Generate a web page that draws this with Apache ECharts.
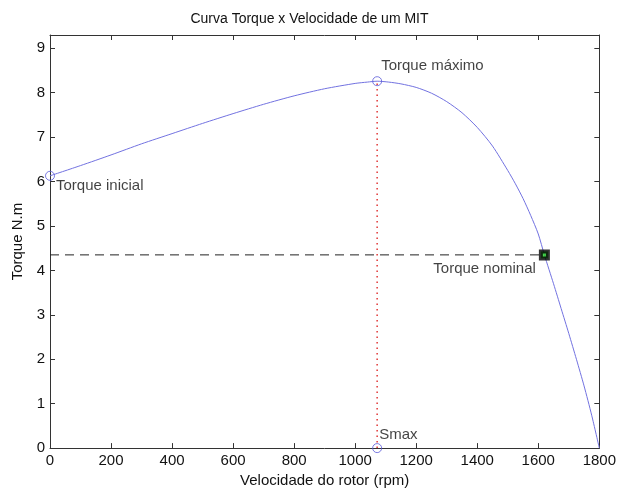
<!DOCTYPE html>
<html><head><meta charset="utf-8">
<script src="https://cdn.jsdelivr.net/npm/echarts@6/dist/echarts.min.js"></script>
<style>html,body{margin:0;padding:0;background:#fff}#c{width:619px;height:493px}</style>
</head><body><div id="c"></div>
<script>
const speed = [0,100,200,300,400,500,600,700,800,900,1000,1040,1072,1110,1150,1200,1250,1300,1350,1400,1450,1500,1525,1550,1575,1600,1620,1650,1675,1700,1725,1750,1775,1800];
const torque = [6.13,6.36,6.60,6.85,7.08,7.31,7.53,7.74,7.93,8.09,8.21,8.24,8.26,8.24,8.20,8.12,7.99,7.80,7.55,7.22,6.80,6.25,5.95,5.62,5.24,4.82,4.35,3.70,3.14,2.58,2.00,1.40,0.74,0];
const pInit = [0, 6.13];
const pMax = [1072, 8.26];
const pSmax = [1072, 0];
const pNom = [1620, 4.35];
const titleText = 'Curva Torque x Velocidade de um MIT';
const xName = 'Velocidade do rotor (rpm)';
const yName = 'Torque N.m';
const xTicks = [0,200,400,600,800,1000,1200,1400,1600,1800];
const yTicks = [0,1,2,3,4,5,6,7,8,9];

const F = 'Liberation Sans, Arial, sans-serif';
const chart = echarts.init(document.getElementById('c'), null, {renderer:'canvas'});
const axisLineStyle = {color:'#333', width:1};
const lbl = (txt, pos, dx, dy) => ({show:true, formatter:txt, position:pos, offset:[dx,dy], color:'#111', fontFamily:F, fontSize:15});
chart.setOption({
  animation:false,
  title:{text:titleText, left:'center', top:7, textStyle:{fontFamily:F, fontSize:14, fontWeight:'normal', color:'#111'}},
  grid:{left:50, right:19, top:35, bottom:42},
  xAxis:[{type:'value', min:0, max:1800, interval:200, name:xName, nameLocation:'middle', nameGap:24,
    nameTextStyle:{fontFamily:F, fontSize:15, color:'#111'},
    axisLine:{show:true, onZero:false, lineStyle:axisLineStyle}, axisTick:{inside:true, length:5, lineStyle:axisLineStyle},
    axisLabel:{fontFamily:F, fontSize:15, color:'#111', margin:5, formatter:v => xTicks.includes(v) ? String(v) : ''}, splitLine:{show:false}},
   {type:'value', position:'top', min:0, max:1800, interval:200,
    axisLine:{show:true, onZero:false, lineStyle:axisLineStyle}, axisTick:{inside:true, length:5, lineStyle:axisLineStyle},
    axisLabel:{show:false}, splitLine:{show:false}}],
  yAxis:[{type:'value', min:0, max:9.3, interval:1, name:yName, nameLocation:'middle', nameGap:23,
    nameTextStyle:{fontFamily:F, fontSize:15, color:'#111'},
    axisLine:{show:true, onZero:false, lineStyle:axisLineStyle}, axisTick:{inside:true, length:5, lineStyle:axisLineStyle},
    axisLabel:{fontFamily:F, fontSize:15, color:'#111', margin:5, showMaxLabel:false,
      formatter:v => yTicks.includes(v) ? String(v) : ''}, splitLine:{show:false}},
   {type:'value', position:'right', min:0, max:9.3, interval:1,
    axisLine:{show:true, onZero:false, lineStyle:axisLineStyle}, axisTick:{inside:true, length:5, lineStyle:axisLineStyle},
    axisLabel:{show:false}, splitLine:{show:false}}],
  series:[
    {type:'line', data:[[0,pNom[1]],[pNom[0],pNom[1]]], symbol:'none', lineStyle:{color:'#222', width:1, type:[9,6]}, z:2},
    {type:'line', data:[[pMax[0],0],[pMax[0],pMax[1]]], symbol:'none', lineStyle:{color:'#e03535', width:1.5, type:[1.5,4]}, z:2},
    {type:'line', data:speed.map((s,i)=>[s,torque[i]]), symbol:'none', smooth:0.25, lineStyle:{color:'#7272e0', width:1}, z:3},
    {type:'scatter', data:[
      {value:pInit, label:lbl('Torque inicial','right',-4,10)},
      {value:pMax, label:lbl('Torque máximo','right',-6,-15)},
      {value:pSmax, label:lbl('Smax','right',-8,-13)}
    ], symbol:'circle', symbolSize:9, itemStyle:{color:'rgba(255,255,255,0)', borderColor:'#5a5ad8', borderWidth:1}, z:4, clip:false},
    {type:'scatter', data:[{value:pNom, label:lbl('Torque nominal','left',2,14)}], symbol:'rect', symbolSize:7,
      itemStyle:{color:'#1fd01f', borderColor:'#000', borderWidth:4}, z:5}
  ]
});
</script></body></html>
